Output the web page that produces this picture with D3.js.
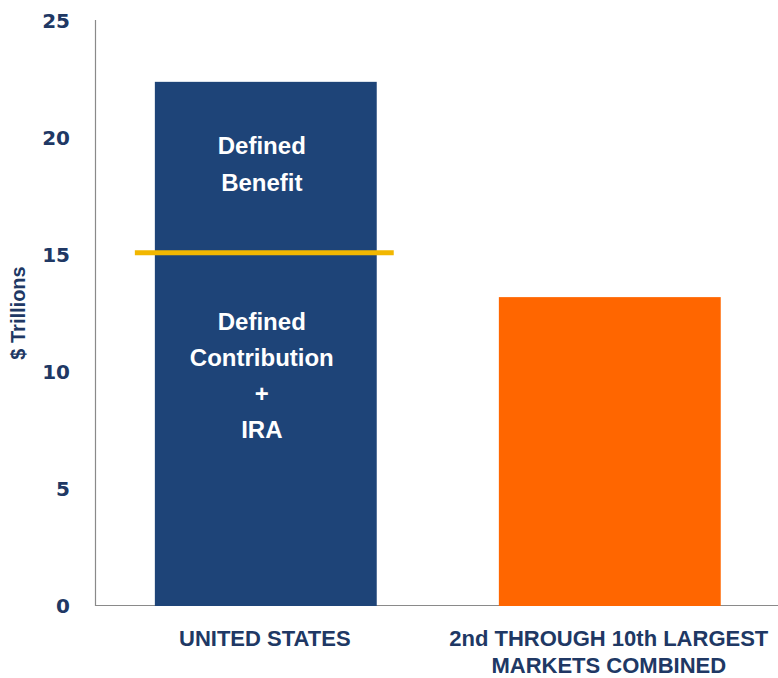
<!DOCTYPE html>
<html>
<head>
<meta charset="utf-8">
<script src="https://cdn.jsdelivr.net/npm/d3@7"></script>
<style>
  html, body { margin: 0; padding: 0; background: #ffffff; }
  svg { display: block; }
</style>
</head>
<body>
<svg id="chart" width="778" height="678"></svg>
<script>
// ---- data ----
const categories = ["UNITED STATES", "2nd THROUGH 10th LARGEST|MARKETS COMBINED"];
const values = [22.4, 13.2];
const barColors = ["#1e4478", "#ff6600"];
const yTicks = [0, 5, 10, 15, 20, 25];
const splitValue = 15.1;               // DB vs DC+IRA divider in the US bar
const upperLabel = ["Defined", "Benefit"];
const lowerLabel = ["Defined", "Contribution", "+", "IRA"];
const yAxisTitle = "$ Trillions";

// ---- layout ----
const svg = d3.select("#chart");
const W = 778, H = 678;
const y = d3.scaleLinear().domain([0, 25]).range([606, 21]);
const x = d3.scaleBand().domain(categories).range([95, 780.6])
  .paddingInner(0.355).paddingOuter(0.174);

const navy = "#203864";
const sans = "Liberation Sans, Arial, sans-serif";

// axes lines
svg.append("line").attr("x1", 95.5).attr("x2", 95.5).attr("y1", 20).attr("y2", y(0))
  .attr("stroke", "#8a8a8a").attr("stroke-width", 1.2);
svg.append("line").attr("x1", 95).attr("x2", W).attr("y1", y(0) - 0.5).attr("y2", y(0) - 0.5)
  .attr("stroke", "#8a8a8a").attr("stroke-width", 1.2);

// y tick labels via axis
const yAxis = d3.axisLeft(y).tickValues(yTicks).tickSize(0).tickPadding(0);
const gy = svg.append("g").attr("transform", "translate(70,0)").call(yAxis);
gy.select(".domain").remove();
gy.selectAll("text")
  .attr("font-family", "DejaVu Sans, sans-serif")
  .attr("font-weight", "bold")
  .attr("font-size", 20)
  .attr("fill", navy);

// y title
svg.append("text")
  .attr("transform", `translate(25,${313}) rotate(-90)`)
  .attr("text-anchor", "middle")
  .attr("font-family", sans)
  .attr("font-weight", "bold")
  .attr("font-size", 20)
  .attr("fill", navy)
  .text(yAxisTitle);

// bars
svg.selectAll("rect.bar").data(categories).join("rect")
  .attr("class", "bar")
  .attr("x", d => x(d))
  .attr("width", x.bandwidth())
  .attr("y", (d, i) => y(values[i]))
  .attr("height", (d, i) => y(0) - y(values[i]))
  .attr("fill", (d, i) => barColors[i]);

// divider line in US bar
const usX = x(categories[0]);
svg.append("line")
  .attr("x1", usX - 20).attr("x2", usX + x.bandwidth() + 17)
  .attr("y1", y(splitValue)).attr("y2", y(splitValue))
  .attr("stroke", "#f2b700").attr("stroke-width", 5);

// in-bar labels
const cx = usX + x.bandwidth() / 2 - 4;
function drawLines(lines, baseline0, step) {
  svg.append("g").selectAll("text").data(lines).join("text")
    .attr("x", cx)
    .attr("y", (d, i) => baseline0 + i * step)
    .attr("text-anchor", "middle")
    .attr("font-family", sans)
    .attr("font-weight", "bold")
    .attr("font-size", 24)
    .attr("fill", "#ffffff")
    .text(d => d);
}
drawLines(upperLabel, y(19.3), 36.5);
drawLines(lowerLabel, y(11.8), 36);

// x category labels
const gx = svg.append("g");
categories.forEach((c, i) => {
  const lines = c.split("|");
  gx.append("g").selectAll("text").data(lines).join("text")
    .attr("x", x(c) + x.bandwidth() / 2 - 1)
    .attr("y", (d, j) => 646 + j * 27)
    .attr("text-anchor", "middle")
    .attr("font-family", sans)
    .attr("font-weight", "bold")
    .attr("font-size", 22)
    .attr("fill", navy)
    .text(d => d);
});
</script>
</body>
</html>
